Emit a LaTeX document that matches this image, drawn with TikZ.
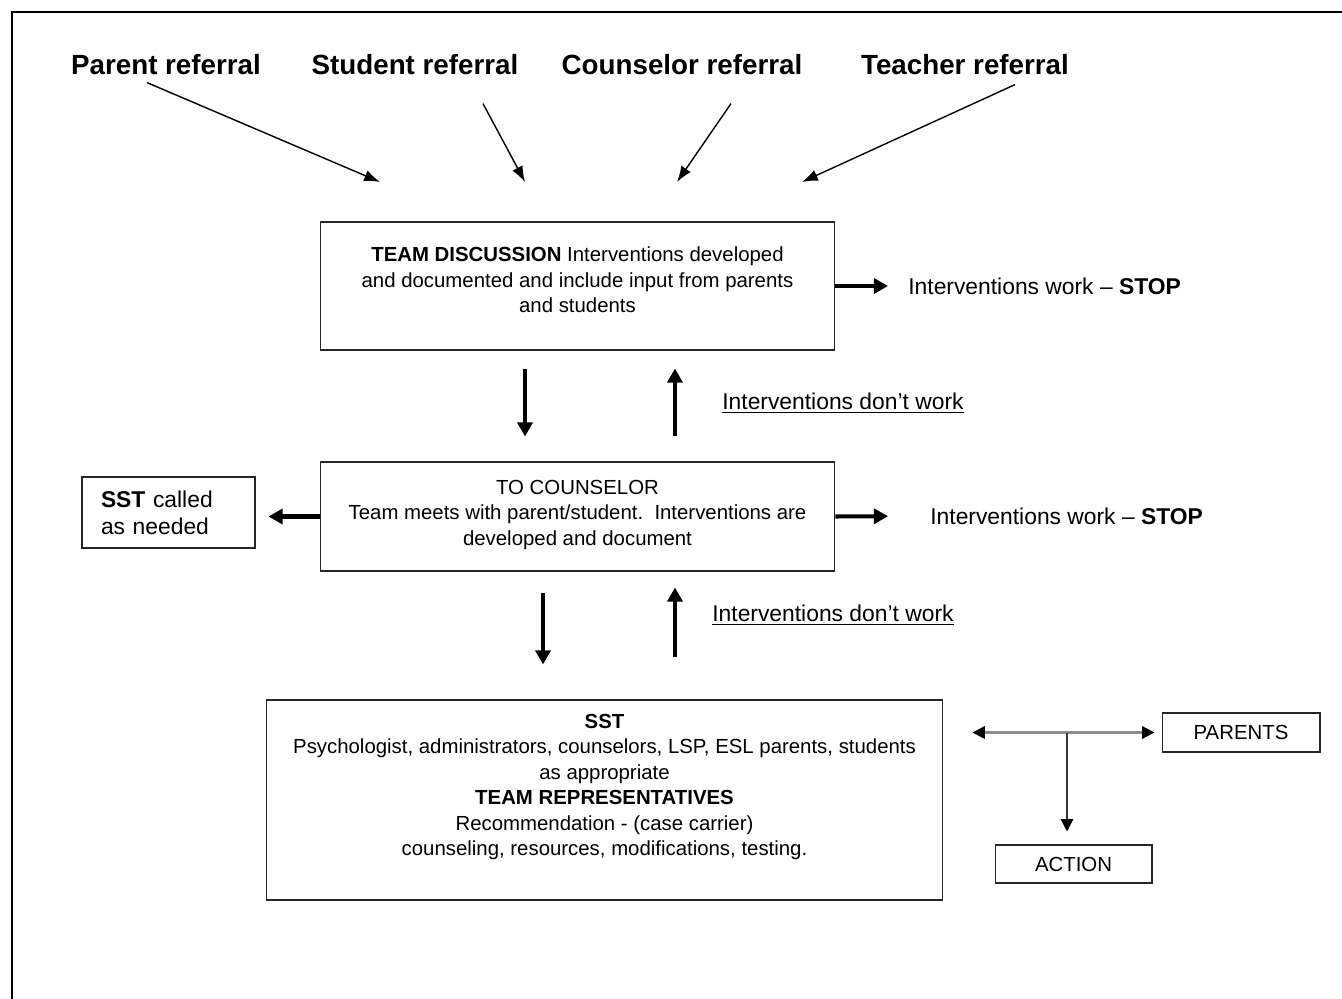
\documentclass[tikz,border=0pt]{standalone}
\usepackage{fontspec}
\setmainfont{Liberation Sans}
\usepackage{tikz}
\usetikzlibrary{arrows.meta}

\begin{document}
\begin{tikzpicture}[x=0.02cm, y=-0.02cm,
        box/.style={draw=black!85, line width=0.6pt, inner sep=0pt, align=center,
            font=\fontsize{11.6}{14.5}\selectfont},
        side/.style={anchor=west, inner sep=0pt, font=\fontsize{13}{15}\selectfont},
        referral/.style={anchor=base, inner sep=0pt, font=\fontsize{15.8}{18}\selectfont\bfseries},
        refarrow/.style={line width=0.8pt, -{Latex[length=9pt,width=6.5pt]}},
        fat/.style={line width=2.3pt, -{Triangle[length=8pt,width=8.5pt]}},
        tee/.style={line width=1.2pt, draw=black!45}]
    \useasboundingbox (0,0) rectangle (1342,999);
    \draw[line width=1.2pt] (12,999) -- (12,12) -- (1342,12);

    % referrals
    \node[referral] (parent) at (166,75) {Parent referral};
    \node[referral] (student) at (415,75) {Student referral};
    \node[referral] (counselor) at (682,75) {Counselor referral};
    \node[referral] (teacher) at (965,75) {Teacher referral};
    \coordinate (inP) at (380,182);
    \coordinate (inS) at (525,182);
    \coordinate (inC) at (677,182);
    \coordinate (inT) at (802,182);
    \draw[refarrow] ([xshift=-0.38cm,yshift=-0.14cm]parent.south) -- (inP);
    \draw[refarrow] ([xshift=1.36cm,yshift=-0.56cm]student.south) -- (inS);
    \draw[refarrow] ([xshift=0.98cm,yshift=-0.56cm]counselor.south) -- (inC);
    \draw[refarrow] ([xshift=1cm,yshift=-0.18cm]teacher.south) -- (inT);

    % boxes
    \node[box, minimum width=10.3cm, minimum height=2.56cm] (disc) at (577.5,286)
        {\textbf{TEAM DISCUSSION} Interventions developed\\
         and documented and include input from parents\\
         and students\\[-0.27cm]};
    \node[box, minimum width=10.3cm, minimum height=2.18cm] (couns) at (577.5,516.5)
        {TO COUNSELOR\\
         Team meets with parent/student.\ \ Interventions are\\
         developed and document\\[-0.35cm]};
    \node[box, align=left, text width=2.7cm, inner xsep=0.38cm, minimum height=1.42cm,
        font=\fontsize{13}{15.5}\selectfont] (sstcall) at (168.5,512.5)
        {\textbf{SST} called\\as needed};
    \node[box, minimum width=13.54cm, minimum height=4cm] (sst) at (604.5,800)
        {\textbf{SST}\\
         Psychologist, administrators, counselors, LSP, ESL parents, students\\
         as appropriate\\
         \textbf{TEAM REPRESENTATIVES}\\
         Recommendation - (case carrier)\\
         counseling, resources, modifications, testing.\\[0.1cm]};
    \node[box, minimum width=3.16cm, minimum height=0.78cm] (parents) at (1241,732.5) {PARENTS};
    \node[box, minimum width=3.14cm, minimum height=0.76cm] (action) at (1073.5,864) {ACTION};

    % outcomes
    \node[side] (stop1) at (908,286) {Interventions work -- \textbf{STOP}};
    \node[side] (stop2) at (930,516) {Interventions work -- \textbf{STOP}};
    \node[side] (fail1) at (722,403) {\underline{Interventions don’t work}};
    \node[side] (fail2) at (712,615) {\underline{Interventions don’t work}};

    \draw[fat, shorten >=0.4cm] (disc.east) -- (stop1.west);
    \draw[fat, shorten >=0.84cm] (couns.east) -- (stop2.west);
    \draw[fat, shorten >=0.26cm] (couns.west) -- (couns.west -| sstcall.east);
    \draw[fat, shorten <=0.36cm, shorten >=0.5cm] ([xshift=-1.05cm]disc.south) -- ([xshift=-1.05cm]couns.north);
    \draw[fat, shorten <=0.5cm, shorten >=0.36cm] ([xshift=1.95cm]couns.north) -- ([xshift=1.95cm]disc.south);
    \draw[fat, shorten <=0.42cm, shorten >=0.7cm] ([xshift=-0.69cm]couns.south) -- ([xshift=-0.69cm]couns.south |- sst.north);
    \draw[fat, shorten <=0.86cm, shorten >=0.32cm] ([xshift=1.95cm]couns.south |- sst.north) -- ([xshift=1.95cm]couns.south);

    % split to parents and action
    \coordinate (split) at (1067,732.5);
    \draw[tee, {Triangle[color=black,length=7pt,width=7pt]}-{Triangle[color=black,length=7pt,width=7pt]},
        shorten <=0.58cm, shorten >=0.14cm] (sst.east |- parents.west) -- (parents.west);
    \draw[line width=0.9pt, draw=black!80, -{Triangle[color=black,length=7pt,width=7pt]},
        shorten >=0.26cm] (split) -- (split |- action.north);
\end{tikzpicture}
\end{document}
